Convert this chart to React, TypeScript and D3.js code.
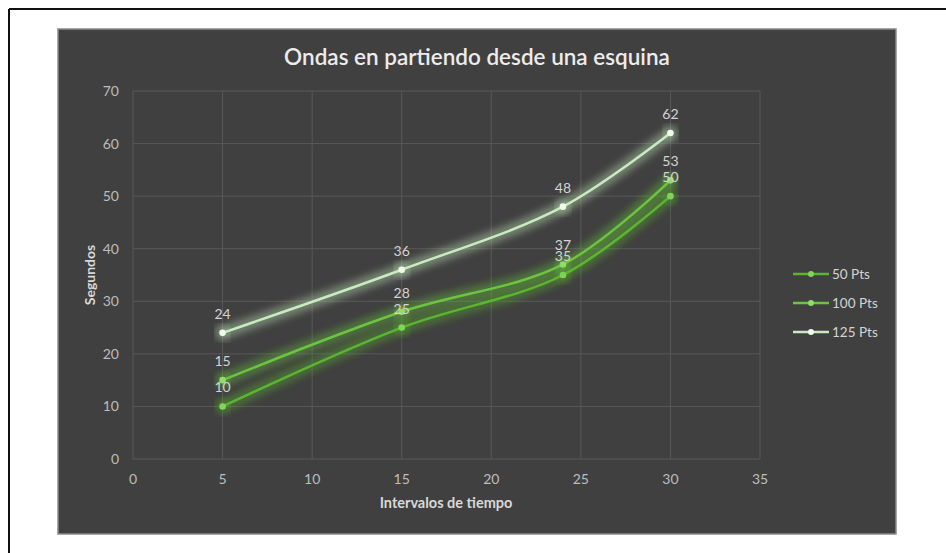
import React from "react";
import * as d3 from "d3";

const xTicks = [0, 5, 10, 15, 20, 25, 30, 35];
const yTicks = [0, 10, 20, 30, 40, 50, 60, 70];
const intervals = [5, 15, 24, 30];
const seriesNames = ["50 Pts", "100 Pts", "125 Pts"];
const pts50 = [10, 25, 35, 50];
const pts100 = [15, 28, 37, 53];
const pts125 = [24, 36, 48, 62];
const seriesColors = ["#5cb530", "#6cc540", "#c8ecc0"];
const markerColors = ["#7fd657", "#8fdc67", "#eefbe9"];

const W = 946;
const H = 553;
const plot = { left: 133, right: 760, top: 91, bottom: 459 };
const font = "Lato, 'Open Sans', sans-serif";

export default function App() {
  const x = d3.scaleLinear().domain([0, 35]).range([plot.left, plot.right]);
  const y = d3.scaleLinear().domain([0, 70]).range([plot.bottom, plot.top]);
  const seriesValues = [pts50, pts100, pts125];
  const line = d3
    .line<[number, number]>()
    .x((d) => x(d[0]))
    .y((d) => y(d[1]))
    .curve(d3.curveCatmullRom.alpha(0.5));

  return (
    <svg
      width={W}
      height={H}
      style={{ position: "absolute", left: 0, top: 0 }}
      fontFamily={font}
    >
      <defs>
        <filter id="glow" x="-20%" y="-30%" width="140%" height="160%">
          <feGaussianBlur in="SourceGraphic" stdDeviation="5" result="b" />
          <feMerge>
            <feMergeNode in="b" />
            <feMergeNode in="b" />
          </feMerge>
        </filter>
      </defs>
      <rect x={0} y={0} width={W} height={H} fill="#fff" />
      <line x1={9} x2={W} y1={9} y2={9} stroke="#111" strokeWidth={2} />
      <line x1={9} x2={9} y1={9} y2={H} stroke="#111" strokeWidth={2} />
      <rect x={58} y={29} width={838} height={505} fill="#404040" stroke="#8a8a8a" strokeWidth={1.5} />

      <text x={477} y={65} textAnchor="middle" fill="#ececec" fontSize={22.5} fontWeight={600}>
        Ondas en partiendo desde una esquina
      </text>

      {xTicks.map((t) => (
        <line key={`gx${t}`} x1={x(t)} x2={x(t)} y1={plot.top} y2={plot.bottom} stroke="#585858" strokeWidth={1} />
      ))}
      {yTicks.map((t) => (
        <line key={`gy${t}`} x1={plot.left} x2={plot.right} y1={y(t)} y2={y(t)} stroke="#585858" strokeWidth={1} />
      ))}

      {yTicks.map((t) => (
        <text key={`ty${t}`} x={119} y={y(t) + 5} textAnchor="end" fill="#bdbdbd" fontSize={14}>
          {t}
        </text>
      ))}
      {xTicks.map((t) => (
        <text key={`tx${t}`} x={x(t)} y={484} textAnchor="middle" fill="#bdbdbd" fontSize={14}>
          {t}
        </text>
      ))}

      <text x={446} y={508} textAnchor="middle" fill="#d8d8d8" fontSize={14.5} fontWeight={700}>
        Intervalos de tiempo
      </text>
      <text
        transform={`translate(95, ${y(35)}) rotate(-90)`}
        textAnchor="middle"
        fill="#d8d8d8"
        fontSize={14}
        fontWeight={700}
      >
        Segundos
      </text>

      {seriesValues.map((vals, si) => {
        const pts = intervals.map((t, i) => [t, vals[i]] as [number, number]);
        const d = line(pts) || "";
        return (
          <g key={seriesNames[si]}>
            <path d={d} fill="none" stroke={seriesColors[si]} strokeWidth={7} opacity={0.45} filter="url(#glow)" />
            <path d={d} fill="none" stroke={seriesColors[si]} strokeWidth={2.5} />
            {pts.map((p, i) => (
              <g key={i}>
                <circle cx={x(p[0])} cy={y(p[1])} r={6} fill={seriesColors[si]} opacity={0.35} filter="url(#glow)" />
                <circle cx={x(p[0])} cy={y(p[1])} r={3.3} fill={markerColors[si]} />
              </g>
            ))}
          </g>
        );
      })}

      {seriesValues.map((vals, si) =>
        intervals.map((t, i) => (
          <text
            key={`l${si}-${i}`}
            x={x(t)}
            y={y(vals[i]) - 14}
            textAnchor="middle"
            fill="#d4d4d4"
            fontSize={14}
          >
            {vals[i]}
          </text>
        ))
      )}

      {seriesNames.map((name, i) => {
        const ly = 274 + i * 29;
        return (
          <g key={name}>
            <line x1={793} x2={829} y1={ly} y2={ly} stroke={seriesColors[i]} strokeWidth={2.5} />
            <circle cx={811} cy={ly} r={3} fill={markerColors[i]} />
            <text x={832} y={ly + 5} fill="#d4d4d4" fontSize={13.5}>
              {name}
            </text>
          </g>
        );
      })}
    </svg>
  );
}
